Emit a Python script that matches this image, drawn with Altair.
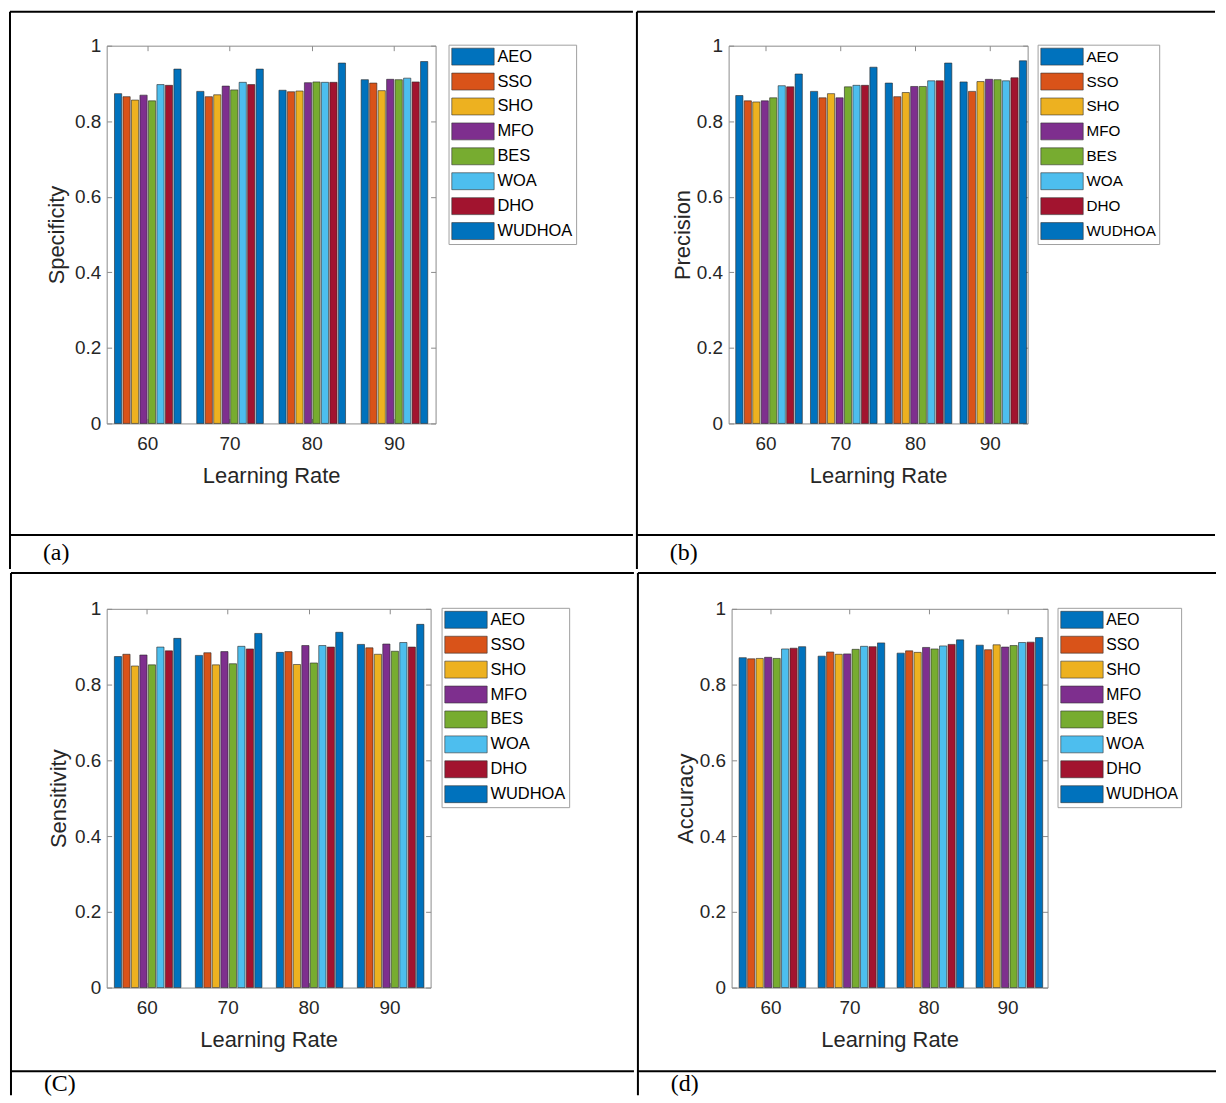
import altair as alt
import pandas as pd

algos = ["AEO", "SSO", "SHO", "MFO", "BES", "WOA", "DHO", "WUDHOA"]
colors = ["#0072BD", "#D95319", "#EDB120", "#7E2F8E", "#77AC30", "#4DBEEE", "#A2142F", "#0072BD"]
rates = ["60", "70", "80", "90"]
y_ticks = [0, 0.2, 0.4, 0.6, 0.8, 1.0]

# one row per learning rate, values in the order of `algos`
specificity = [
    [0.873, 0.865, 0.856, 0.869, 0.854, 0.897, 0.895, 0.938],
    [0.879, 0.865, 0.870, 0.893, 0.883, 0.903, 0.897, 0.938],
    [0.882, 0.878, 0.880, 0.902, 0.904, 0.903, 0.903, 0.954],
    [0.910, 0.901, 0.881, 0.911, 0.910, 0.914, 0.904, 0.958],
]
precision = [
    [0.868, 0.854, 0.851, 0.854, 0.862, 0.894, 0.891, 0.925],
    [0.879, 0.862, 0.873, 0.862, 0.891, 0.895, 0.895, 0.943],
    [0.901, 0.865, 0.876, 0.892, 0.892, 0.907, 0.907, 0.954],
    [0.904, 0.879, 0.905, 0.911, 0.910, 0.907, 0.915, 0.960],
]
sensitivity = [
    [0.874, 0.880, 0.849, 0.878, 0.852, 0.899, 0.889, 0.922],
    [0.877, 0.884, 0.852, 0.887, 0.855, 0.901, 0.894, 0.935],
    [0.885, 0.887, 0.853, 0.903, 0.857, 0.903, 0.899, 0.938],
    [0.906, 0.897, 0.880, 0.907, 0.888, 0.911, 0.899, 0.959],
]
accuracy = [
    [0.871, 0.868, 0.869, 0.872, 0.869, 0.894, 0.896, 0.900],
    [0.875, 0.886, 0.880, 0.881, 0.893, 0.901, 0.900, 0.910],
    [0.883, 0.889, 0.885, 0.898, 0.894, 0.902, 0.906, 0.918],
    [0.904, 0.892, 0.905, 0.899, 0.903, 0.911, 0.912, 0.924],
]

FONT = "Liberation Sans"
TXT = "#262626"
BOX = "#8c8c8c"

one = pd.DataFrame({"k": [0]})


def long_table(vals):
    return pd.DataFrame(
        [{"lr": r, "algo": a, "value": v} for r, row in zip(rates, vals) for a, v in zip(algos, row)]
    )


def hrule(y, x1, x2):
    return alt.Chart(one).mark_rule(color="black", strokeWidth=2).encode(
        x=alt.value(x1), x2=alt.value(x2), y=alt.value(y)
    )


def vrule(x, y1, y2):
    return alt.Chart(one).mark_rule(color="black", strokeWidth=2).encode(
        x=alt.value(x), y=alt.value(y1), y2=alt.value(y2)
    )


def caption(text, x, y):
    return alt.Chart(one).mark_text(
        font="Liberation Serif", fontSize=24, align="left", baseline="alphabetic", color="black"
    ).encode(x=alt.value(x), y=alt.value(y), text=alt.value(text))


def panel(vals, ylabel, w, h, leg_x, leg_y, leg_font, title_x,
          left, top, right, row_y, bottom, cap, cap_x, cap_y):
    base = alt.Chart(long_table(vals))
    xscale = alt.Scale(domain=rates, paddingInner=0.19, paddingOuter=0.095)
    yscale = alt.Scale(domain=[0, 1], nice=False)
    xoff = alt.XOffset("algo:N", sort=algos,
                       scale=alt.Scale(domain=algos, paddingInner=0.15, paddingOuter=0))
    bars = base.mark_bar(stroke="#262626", strokeWidth=0.6).encode(
        x=alt.X("lr:N", scale=xscale, axis=alt.Axis(
            orient="bottom", title="Learning Rate", offset=-5, tickSize=5, tickColor=BOX,
            domain=False, labelAngle=0, labelPadding=11, labelFontSize=19, labelColor=TXT,
            labelFont=FONT, titleFontSize=22, titleFont=FONT, titleColor=TXT,
            titleFontWeight="normal", titleY=57, titleBaseline="middle")),
        xOffset=xoff,
        y=alt.Y("value:Q", scale=yscale, axis=alt.Axis(
            orient="left", title=ylabel, values=y_ticks, format=".1~f", offset=-5, tickSize=5,
            tickColor=BOX, domain=False, grid=False, labelPadding=6, labelFontSize=19,
            labelColor=TXT, labelFont=FONT, titleFontSize=22, titleFont=FONT, titleColor=TXT,
            titleFontWeight="normal", titleX=title_x, titleY=h / 2, titleBaseline="middle")),
        color=alt.Color("algo:N", scale=alt.Scale(domain=algos, range=colors), legend=alt.Legend(
            title=None, orient="none", legendX=leg_x, legendY=leg_y,
            symbolType="M-2.5,-1H2.5V1H-2.5Z", symbolSize=289, symbolStrokeColor="#333333",
            symbolStrokeWidth=0.6, symbolOpacity=1, symbolOffset=12.5, labelOffset=15.5,
            labelFont=FONT, labelFontSize=leg_font, labelColor="black", rowPadding=5, padding=3,
            strokeColor="#a0a0a0", fillColor="white", labelLimit=200)),
    )
    frame_ticks = base.mark_bar(opacity=0).encode(
        x=alt.X("lr:N", scale=xscale, axis=alt.Axis(
            orient="top", title=None, labels=False, offset=-5, tickSize=5, tickColor=BOX,
            domain=False)),
        xOffset=xoff,
        y=alt.Y("value:Q", scale=yscale, axis=alt.Axis(
            orient="right", title=None, labels=False, values=y_ticks, offset=-5, tickSize=5,
            tickColor=BOX, domain=False, grid=False)),
    )
    return alt.layer(
        bars,
        frame_ticks,
        hrule(top, left, right),
        vrule(left, top, bottom),
        hrule(row_y, left, right),
        caption(cap, cap_x, cap_y),
    ).resolve_axis(x="independent", y="independent").properties(width=w, height=h)


pa = panel(specificity, "Specificity", 330, 379, 343, -1, 16.5, -55,
           -97, -34, 528, 491, 525, "(a)", -64, 516)
pb = panel(precision, "Precision", 300, 379, 310, -1, 15.3, -51,
           -92, -34, 488, 491, 525, "(b)", -59, 516)
pc = panel(sensitivity, "Sensitivity", 325, 380, 336, -1, 16.5, -53,
           -96, -36, 529, 464, 488, "(C)", -63, 484)
pd_ = panel(accuracy, "Accuracy", 317, 380, 327, -1, 15.8, -51,
            -94, -36, 486, 464, 488, "(d)", -61, 484)

row1 = alt.hconcat(pa, pb, spacing=0).resolve_scale(color="independent").resolve_legend(color="independent")
row2 = alt.hconcat(pc, pd_, spacing=0).resolve_scale(color="independent").resolve_legend(color="independent")

chart = (
    alt.vconcat(row1, row2, spacing=0)
    .resolve_scale(color="independent")
    .resolve_legend(color="independent")
    .properties(padding=0, background="white")
    .configure_view(stroke=BOX, strokeWidth=1)
)

chart.save("out.html", embed_options={"renderer": "svg", "actions": False})
